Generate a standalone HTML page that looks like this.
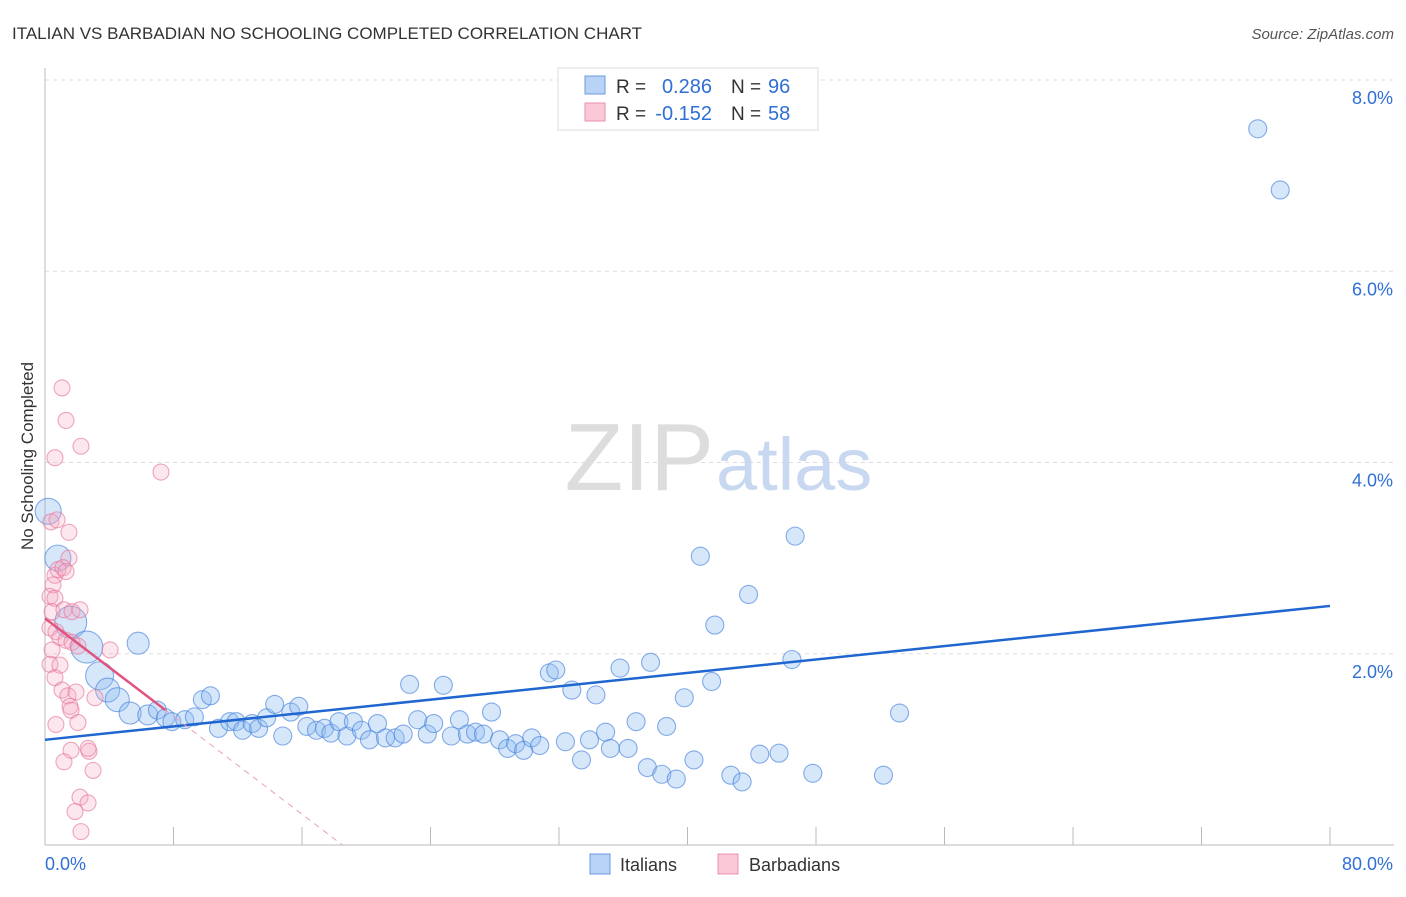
<!DOCTYPE html>
<html><head><meta charset="utf-8"><style>
body{margin:0;background:#fff;font-family:"Liberation Sans",sans-serif;}
svg text{font-family:"Liberation Sans",sans-serif;}
</style></head><body>
<svg id="chart" width="1406" height="892" xmlns="http://www.w3.org/2000/svg">
<text x="12" y="39" font-size="17" fill="#333">ITALIAN VS BARBADIAN NO SCHOOLING COMPLETED CORRELATION CHART</text>
<text x="1394" y="39" font-size="15" fill="#555" text-anchor="end" font-style="italic">Source: ZipAtlas.com</text>
<text transform="translate(33,456) rotate(-90)" font-size="17" fill="#333" text-anchor="middle">No Schooling Completed</text>
<g id="grid"></g>
<text x="714" y="490" font-size="96" fill="#ddd" text-anchor="end" font-family="Liberation Serif">ZIP</text>
<text x="716" y="490" font-size="74" fill="#c8d8f0">atlas</text>
<g id="pts"></g>
<g id="trend"></g>
<g>
<rect x="558" y="68" width="260" height="62" fill="#fff" stroke="#ddd"/>
<rect x="585" y="76" width="20" height="18" fill="#b8d3f5" stroke="#6a9be0"/>
<rect x="585" y="103" width="20" height="18" fill="#fbc8d7" stroke="#e891ad"/>
<text x="616" y="93" font-size="19" fill="#333">R =</text>
<text x="712" y="93" font-size="20" fill="#2f6fd6" text-anchor="end">0.286</text>
<text x="731" y="93" font-size="19" fill="#333">N =</text>
<text x="768" y="93" font-size="20" fill="#2f6fd6">96</text>
<text x="616" y="120" font-size="19" fill="#333">R =</text>
<text x="712" y="120" font-size="20" fill="#2f6fd6" text-anchor="end">-0.152</text>
<text x="731" y="120" font-size="19" fill="#333">N =</text>
<text x="768" y="120" font-size="20" fill="#2f6fd6">58</text>
</g>
<g>
<rect x="590" y="854" width="20" height="20" fill="#b8d3f5" stroke="#6a9be0"/>
<text x="620" y="871" font-size="18" fill="#333">Italians</text>
<rect x="718" y="854" width="20" height="20" fill="#fbc8d7" stroke="#e891ad"/>
<text x="749" y="871" font-size="18" fill="#333">Barbadians</text>
</g>
</svg>
<script>
const yTicks=[2,4,6,8];
const yTickLabels=["2.0%","4.0%","6.0%","8.0%"];
const xEdgeLabels=["0.0%","80.0%"];
const blueX=[75.5,76.9,0.2,0.8,1.6,2.6,3.4,3.9,4.5,5.8,5.3,6.4,7.0,7.5,7.9,8.7,9.3,9.8,10.3,10.8,11.5,11.9,12.3,12.9,13.3,13.8,14.3,14.8,15.3,15.8,16.3,16.9,17.4,17.8,18.3,18.8,19.2,19.7,20.2,20.7,21.2,21.8,22.3,22.7,23.2,23.8,24.2,24.8,25.3,25.8,26.3,26.8,27.3,27.8,28.3,28.8,29.3,29.8,30.3,30.8,31.4,31.8,32.4,32.8,33.4,33.9,34.3,34.9,35.2,35.8,36.3,36.8,37.5,37.7,38.4,38.7,39.3,39.8,40.4,40.8,41.5,41.7,42.7,43.4,43.8,44.5,45.7,46.5,46.7,47.8,52.2,53.2];
const blueY=[7.49,6.85,3.49,3.0,2.33,2.07,1.77,1.62,1.52,2.11,1.38,1.36,1.41,1.33,1.29,1.31,1.34,1.52,1.56,1.22,1.29,1.29,1.20,1.27,1.22,1.33,1.47,1.14,1.39,1.45,1.24,1.20,1.22,1.17,1.29,1.14,1.29,1.20,1.10,1.27,1.12,1.12,1.16,1.68,1.31,1.16,1.27,1.67,1.14,1.31,1.16,1.18,1.16,1.39,1.10,1.01,1.06,0.99,1.12,1.04,1.80,1.83,1.08,1.62,0.89,1.10,1.57,1.18,1.01,1.85,1.01,1.29,0.81,1.91,0.74,1.24,0.69,1.54,0.89,3.02,1.71,2.30,0.73,0.66,2.62,0.95,0.96,1.94,3.23,0.75,0.73,1.38];
const blueBig=[0,0,13,13,16,16,14,12,12,11,11,10];
const pinkX=[1.06,1.31,2.24,0.62,7.22,0.37,0.75,1.49,1.49,0.62,0.81,1.12,1.31,0.5,0.31,0.62,0.44,1.18,1.68,2.18,0.31,0.68,0.93,1.31,1.68,2.05,0.44,4.05,0.31,0.93,0.62,1.06,1.43,1.93,3.11,1.56,1.62,0.68,2.05,1.62,2.74,2.68,1.18,2.99,2.18,2.68,1.87,2.24];
const pinkY=[4.78,4.44,4.17,4.05,3.90,3.38,3.40,3.27,3.00,2.82,2.88,2.90,2.86,2.72,2.60,2.58,2.44,2.46,2.44,2.46,2.27,2.23,2.17,2.14,2.12,2.08,2.04,2.04,1.89,1.88,1.75,1.62,1.56,1.60,1.54,1.45,1.41,1.26,1.28,0.99,0.98,1.01,0.87,0.78,0.50,0.44,0.35,0.14];
const blueTrend=[1.10,2.50];
const pinkTrend=[2.37,-0.128];
const X0=45,X1=1330,Y0=845,Y8=80;
const sx=v=>X0+(v/80)*(X1-X0);
const sy=v=>Y0-(v/8)*(Y0-Y8);
const NS="http://www.w3.org/2000/svg";
function mk(t,a,p){const e=document.createElementNS(NS,t);for(const k in a)e.setAttribute(k,a[k]);p.appendChild(e);return e;}
const grid=document.getElementById('grid');
yTicks.forEach((t,i)=>{
 const l=mk('line',{x1:X0,x2:1394,y1:sy(t),y2:sy(t),stroke:'#ddd','stroke-dasharray':'4,4'},grid);
 
 
 const tx=mk('text',{x:1393,y:sy(t)+24,'font-size':18,fill:'#2f6fd6','text-anchor':'end'},grid);
 tx.textContent=yTickLabels[i];
 
 
});
const ax=mk('line',{x1:X0,x2:X0,y1:68,y2:Y0,stroke:'#bbb'},grid);


const bx=mk('line',{x1:X0,x2:1394,y1:Y0,y2:Y0,stroke:'#bbb'},grid);


for(let i=1;i<=10;i++){
 const t=mk('line',{x1:sx(i*8),x2:sx(i*8),y1:Y0-18,y2:Y0,stroke:'#bbb'},grid);
 
 
}
[[0,'start',X0],[1,'end',1393]].forEach(([i,a,x])=>{
 const t=mk('text',{x:x,y:870,'font-size':18,fill:'#2f6fd6','text-anchor':a},grid);
 t.textContent=xEdgeLabels[i];
 
 
});
const pts=document.getElementById('pts');
blueX.forEach((v,i)=>{
 const c=mk('circle',{cx:sx(v),cy:sy(blueY[i]),r:blueBig[i]||9,fill:'rgba(140,185,240,0.35)',stroke:'rgba(70,130,220,0.65)','stroke-width':1.1},pts);
 
 
});
pinkX.forEach((v,i)=>{
 const c=mk('circle',{cx:sx(v),cy:sy(pinkY[i]),r:8,fill:'rgba(245,170,195,0.28)',stroke:'rgba(230,120,155,0.65)','stroke-width':1.1},pts);
 
 
});
const tr=document.getElementById('trend');
const b=mk('line',{x1:sx(0),y1:sy(blueTrend[0]),x2:sx(80),y2:sy(blueTrend[1]),stroke:'#1f66d1','stroke-width':2.5},tr);


const pe=7.5,pz=-pinkTrend[0]/pinkTrend[1];
const p1=mk('line',{x1:sx(0),y1:sy(pinkTrend[0]),x2:sx(pe),y2:sy(pinkTrend[0]+pinkTrend[1]*pe),stroke:'#e0557f','stroke-width':2.5},tr);


const p2=mk('line',{x1:sx(pe),y1:sy(pinkTrend[0]+pinkTrend[1]*pe),x2:sx(pz),y2:sy(0),stroke:'#eaa0b8','stroke-width':1,'stroke-dasharray':'6,5'},tr);


</script>
</body></html>
